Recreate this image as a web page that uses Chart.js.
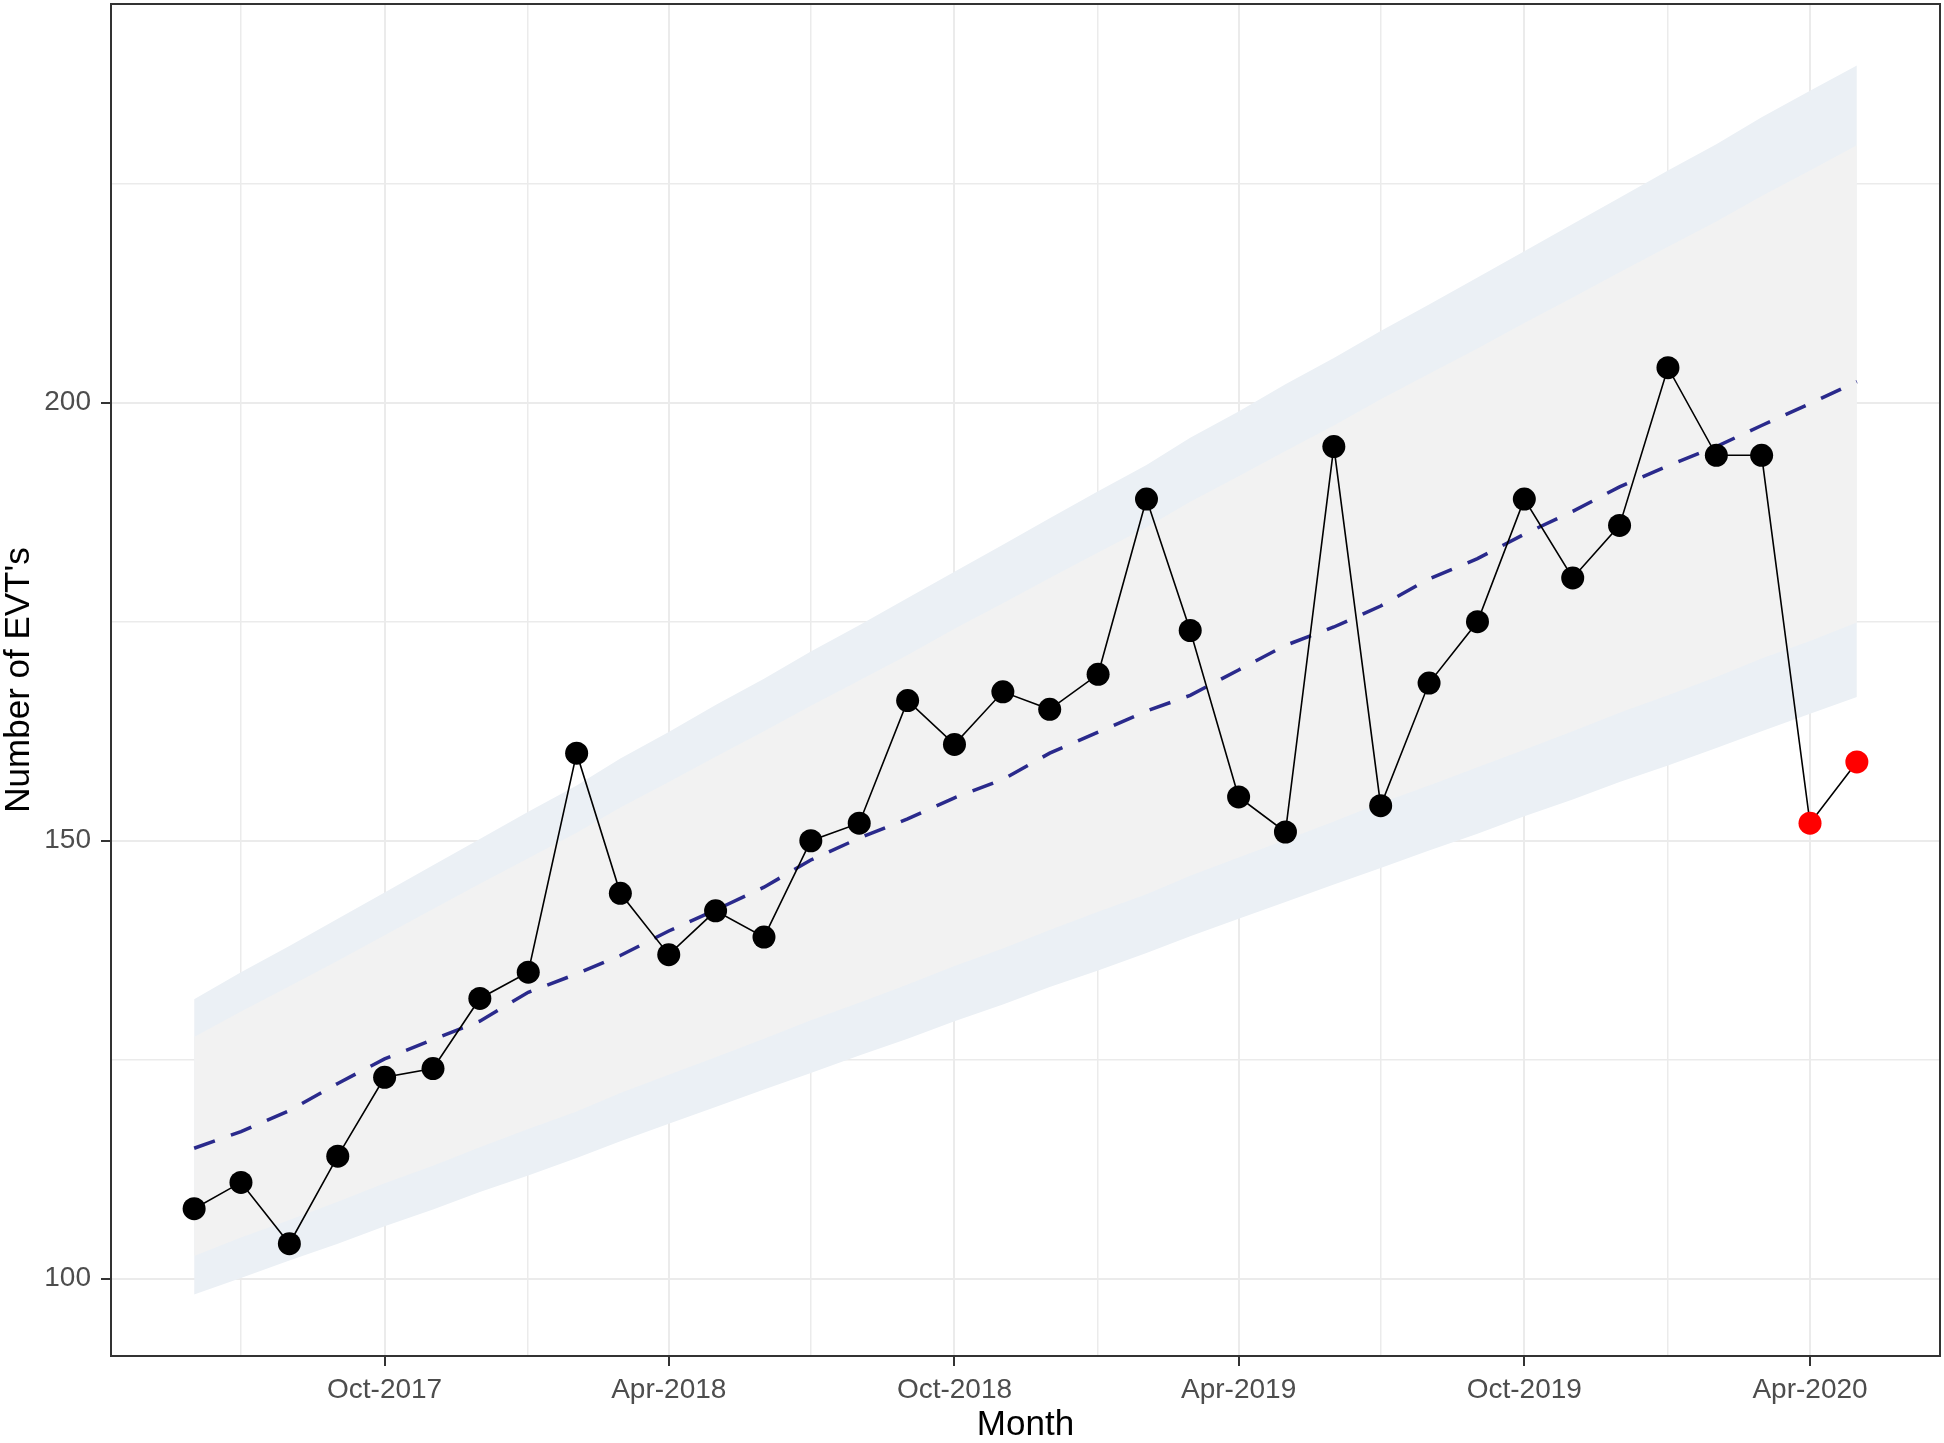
<!DOCTYPE html>
<html lang="en">
<head>
<meta charset="UTF-8">
<title>Number of EVT's by month</title>
<script src="https://cdn.jsdelivr.net/npm/chart.js@4.4.1/dist/chart.umd.min.js"></script>
<style>
  html, body { margin: 0; padding: 0; background: #fff; }
  #wrap { width: 1944px; height: 1443px; }
</style>
</head>
<body>
<div id="wrap"><canvas id="evtChart" width="1944" height="1443"></canvas></div>
<script>
// monthly observations
const months = [
  'Jun-2017', 'Jul-2017', 'Aug-2017', 'Sep-2017', 'Oct-2017', 'Nov-2017', 'Dec-2017',
  'Jan-2018', 'Feb-2018', 'Mar-2018', 'Apr-2018', 'May-2018', 'Jun-2018', 'Jul-2018',
  'Aug-2018', 'Sep-2018', 'Oct-2018', 'Nov-2018', 'Dec-2018', 'Jan-2019', 'Feb-2019',
  'Mar-2019', 'Apr-2019', 'May-2019', 'Jun-2019', 'Jul-2019', 'Aug-2019', 'Sep-2019',
  'Oct-2019', 'Nov-2019', 'Dec-2019', 'Jan-2020', 'Feb-2020', 'Mar-2020', 'Apr-2020', 'May-2020'
];
const evtCounts = [108, 111, 104, 114, 123, 124, 132, 135, 160, 144, 137, 142, 139, 150, 152, 166, 161, 167,
  165, 169, 189, 174, 155, 151, 195, 154, 168, 175, 189, 180, 186, 204, 194, 194, 152, 159];
const highlightFrom = 'Apr-2020';   // points from here on are red

// fitted trend and prediction bands
const trend = [114.9, 116.8, 119.2, 122.3, 125.1, 127.3, 129.4, 132.7, 134.8, 136.9, 139.7, 142.1,
  144.7, 147.8, 150.3, 152.5, 154.9, 157.0, 160.0, 162.4, 164.8, 166.6, 169.5, 172.3,
  174.4, 176.8, 179.9, 182.2, 185.0, 187.6, 190.4, 192.8, 195.0, 197.4, 199.9, 202.4];
const outerUpper = [131.9, 135.0, 138.0, 141.1, 144.1, 147.2, 150.2, 153.3, 156.3, 159.4, 162.4, 165.5,
  168.5, 171.6, 174.6, 177.7, 180.7, 183.8, 186.8, 189.9, 192.9, 196.0, 199.0, 202.1,
  205.1, 208.2, 211.2, 214.3, 217.3, 220.4, 223.4, 226.5, 229.5, 232.6, 235.6, 238.5];
const innerUpper = [127.6, 130.5, 133.4, 136.3, 139.2, 142.2, 145.1, 148.0, 150.9, 153.8, 156.7, 159.6,
  162.5, 165.4, 168.3, 171.2, 174.2, 177.1, 180.0, 182.9, 185.8, 188.7, 191.6, 194.5,
  197.4, 200.4, 203.3, 206.2, 209.1, 212.0, 214.9, 217.8, 220.7, 223.6, 226.5, 229.4];
const innerLower = [102.6, 104.7, 106.7, 108.8, 110.9, 112.9, 115.0, 117.1, 119.1, 121.2, 123.3, 125.3,
  127.4, 129.5, 131.5, 133.6, 135.7, 137.7, 139.8, 141.9, 143.9, 146.0, 148.1, 150.1,
  152.2, 154.3, 156.3, 158.4, 160.4, 162.5, 164.6, 166.6, 168.7, 170.8, 172.8, 174.9];
const outerLower = [98.2, 100.1, 102.1, 104.0, 106.0, 107.9, 109.9, 111.8, 113.8, 115.7, 117.7, 119.6,
  121.6, 123.5, 125.5, 127.4, 129.4, 131.3, 133.3, 135.2, 137.2, 139.1, 141.1, 143.0,
  145.0, 146.9, 148.9, 150.8, 152.8, 154.7, 156.7, 158.6, 160.6, 162.5, 164.5, 166.4];

// axis breaks
const xMajorTicks = ['Oct-2017', 'Apr-2018', 'Oct-2018', 'Apr-2019', 'Oct-2019', 'Apr-2020'];
const xMinorTicks = ['Jul-2017', 'Jan-2018', 'Jul-2018', 'Jan-2019', 'Jul-2019', 'Jan-2020'];
const yMajorTicks = [100, 150, 200];
const yMinorTicks = [125, 175, 225];

const MON = ['Jan', 'Feb', 'Mar', 'Apr', 'May', 'Jun', 'Jul', 'Aug', 'Sep', 'Oct', 'Nov', 'Dec'];
function toTime(label) {
  const [m, y] = label.split('-');
  return Date.UTC(+y, MON.indexOf(m), 1);
}
const t0 = toTime(months[0]);
const dayOf = label => (toTime(label) - t0) / 86400000;
const xs = months.map(dayOf);
const series = arr => arr.map((v, i) => ({ x: xs[i], y: v }));

const xSpan = xs[xs.length - 1] - xs[0];
const allY = evtCounts.concat(outerUpper, outerLower);
const yLo = Math.min(...allY), yHi = Math.max(...allY);
const yPad = (yHi - yLo) * 0.05;

const xMajorSet = new Set(xMajorTicks.map(dayOf));
const xLabelOf = {};
xMajorTicks.forEach(l => xLabelOf[dayOf(l)] = l);
const yMajorSet = new Set(yMajorTicks);
const redFrom = months.indexOf(highlightFrom);

const FONT = 'Liberation Sans, Arial, sans-serif';

// ggplot-like panel border drawn over the data
const panelBorder = {
  id: 'panelBorder',
  afterDatasetsDraw(chart) {
    const { ctx, chartArea: a } = chart;
    ctx.save();
    ctx.strokeStyle = '#333333';
    ctx.lineWidth = 2;
    ctx.strokeRect(a.left, a.top, a.right - a.left, a.bottom - a.top);
    ctx.restore();
  }
};

function noPadding(s) {
  s.paddingTop = 0; s.paddingBottom = 0; s.paddingLeft = 0; s.paddingRight = 0;
}

const bandLine = { borderWidth: 0, pointRadius: 0, pointHoverRadius: 0, tension: 0 };

new Chart(document.getElementById('evtChart'), {
  type: 'line',
  data: {
    datasets: [
      { ...bandLine, data: series(outerUpper), fill: '+1', backgroundColor: '#ebf0f5', order: 4 },
      { ...bandLine, data: series(outerLower), fill: false, order: 4 },
      { ...bandLine, data: series(innerUpper), fill: '+1', backgroundColor: '#f2f2f2', order: 3 },
      { ...bandLine, data: series(innerLower), fill: false, order: 3 },
      {
        data: series(trend), borderColor: '#2a2a8c', borderWidth: 3.5, borderDash: [22, 17],
        pointRadius: 0, fill: false, order: 2
      },
      {
        data: series(evtCounts), borderColor: '#000000', borderWidth: 1.6, fill: false,
        pointRadius: 11.5, pointBorderWidth: 0,
        pointBackgroundColor: c => c.dataIndex >= redFrom ? '#ff0000' : '#000000',
        order: 1
      }
    ]
  },
  options: {
    responsive: false,
    devicePixelRatio: 1,
    animation: false,
    layout: { autoPadding: false, padding: { top: 4, right: 4, left: 0, bottom: 0 } },
    plugins: { legend: { display: false }, tooltip: { enabled: false } },
    scales: {
      x: {
        type: 'linear',
        min: xs[0] - xSpan * 0.05,
        max: xs[xs.length - 1] + xSpan * 0.05,
        afterBuildTicks: s => {
          s.ticks = xMinorTicks.concat(xMajorTicks).map(dayOf).sort((a, b) => a - b).map(v => ({ value: v }));
        },
        afterFit: s => { s.height = 87; noPadding(s); },
        border: { display: false },
        grid: {
          color: '#ebebeb',
          lineWidth: c => xMajorSet.has(c.tick && c.tick.value) ? 2 : 1.5,
          tickColor: c => xMajorSet.has(c.tick && c.tick.value) ? '#333333' : 'rgba(0,0,0,0)',
          tickLength: 10,
          tickWidth: 2
        },
        ticks: {
          autoSkip: false, maxRotation: 0, padding: 7,
          color: '#4d4d4d', font: { family: FONT, size: 28 },
          callback: v => xLabelOf[v] || ''
        },
        title: {
          display: true, text: 'Month', color: '#000000', padding: 0,
          font: { family: FONT, size: 35, lineHeight: 1.0 }
        }
      },
      y: {
        min: yLo - yPad,
        max: yHi + yPad,
        afterBuildTicks: s => {
          s.ticks = yMinorTicks.concat(yMajorTicks).sort((a, b) => a - b).map(v => ({ value: v }));
        },
        afterFit: s => { s.width = 111; noPadding(s); },
        border: { display: false },
        grid: {
          color: '#ebebeb',
          lineWidth: c => yMajorSet.has(c.tick && c.tick.value) ? 2 : 1.5,
          tickColor: c => yMajorSet.has(c.tick && c.tick.value) ? '#333333' : 'rgba(0,0,0,0)',
          tickLength: 10,
          tickWidth: 2
        },
        ticks: {
          autoSkip: false, padding: 10,
          color: '#4d4d4d', font: { family: FONT, size: 28 },
          callback: v => yMajorSet.has(v) ? String(v) : ''
        },
        title: {
          display: true, text: "Number of EVT's", color: '#000000', padding: 0,
          font: { family: FONT, size: 35, lineHeight: 1.1 }
        }
      }
    }
  },
  plugins: [panelBorder]
});
</script>
</body>
</html>
